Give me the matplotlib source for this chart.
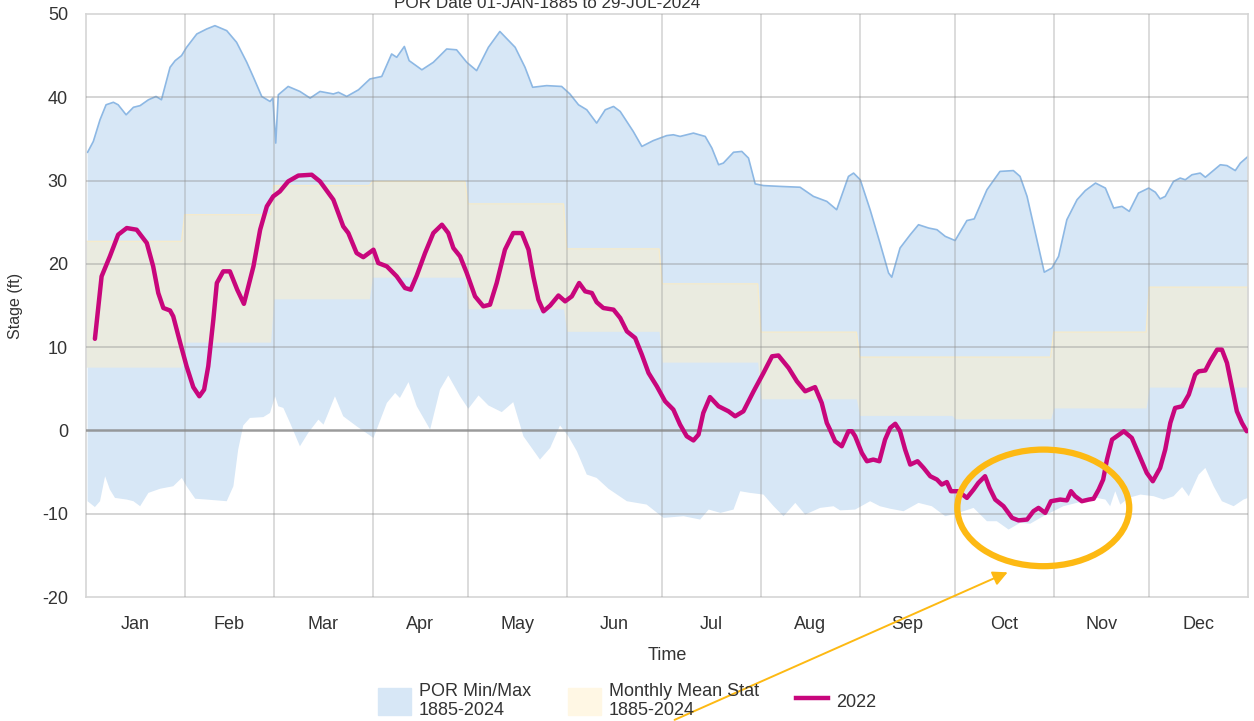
import numpy as np
import matplotlib
matplotlib.use("Agg")
import matplotlib.pyplot as plt
from matplotlib.patches import Ellipse, Patch
from matplotlib.lines import Line2D

plt.rcParams['font.family'] = ['Liberation Sans', 'DejaVu Sans']
plt.rcParams['axes.unicode_minus'] = False

# Data (day of year, 0 = 01-Jan)
months = ['Jan', 'Feb', 'Mar', 'Apr', 'May', 'Jun', 'Jul', 'Aug', 'Sep', 'Oct', 'Nov', 'Dec']
month_days = [31, 28, 31, 30, 31, 30, 31, 31, 30, 31, 30, 31]

# monthly mean stat band (low / high), ft
mean_low = [7.6, 10.6, 15.8, 18.4, 14.6, 11.9, 8.2, 3.8, 1.8, 1.4, 2.7, 5.2]
mean_high = [22.7, 25.9, 29.4, 29.9, 27.2, 21.8, 17.6, 11.8, 8.8, 8.8, 11.8, 17.2]

# POR max
max_day = [0.5, 2.3, 4.4, 6.3, 8.6, 10.1, 12.6, 14.9, 17, 19.6, 22, 23.7, 26.4, 28, 30, 31.6,
           34.8, 37.9, 40.5, 44.2, 47.3, 50.5, 52.6, 55.2, 57.8, 58.7, 59.6, 60.4, 63.5, 67.2,
           70.4, 73.5, 77.7, 79.3, 81.9, 85.6, 89.2, 92.9, 96, 97.6, 100, 101.5, 105.5, 109.1,
           113.3, 116.4, 119.6, 122.7, 126.4, 130, 134.8, 137.9, 140.3, 144.7, 149.4, 152,
           154.7, 157.3, 160.4, 163.1, 165.7, 167.8, 171.9, 174.6, 178.2, 182.4, 184.5, 186.6,
           190.8, 194.5, 196.6, 198.7, 200.2, 203.4, 206, 208.1, 210.2, 212.8, 218, 224.3,
           228.5, 232.7, 235.8, 239.5, 241.1, 243.2, 246.3, 249.4, 252.1, 253.1, 255.7, 258.9,
           261.5, 264.7, 267.3, 269.9, 273, 276.7, 279, 283, 287.1, 291.3, 293.4, 295.6, 298.2,
           301, 303.4, 305.5, 308.1, 311.3, 313.9, 317.1, 320.2, 322.8, 325.4, 327.7, 330.6,
           333.8, 335.9, 337.4, 339, 341.6, 343.7, 345.3, 347.4, 350, 351.6, 356.3, 358.4, 361,
           362.6, 365]
max_val = [33.4, 34.7, 37.3, 39.1, 39.4, 39.1, 37.9, 38.8, 39.0, 39.7, 40.1, 39.7, 43.6, 44.4,
           45.0, 46.0, 47.6, 48.2, 48.6, 48.0, 46.6, 44.2, 42.4, 40.1, 39.5, 39.9, 34.5, 40.3,
           41.3, 40.7, 39.9, 40.7, 40.4, 40.6, 40.1, 40.9, 42.2, 42.5, 45.2, 44.8, 46.1, 44.4,
           43.3, 44.2, 45.8, 45.7, 44.2, 43.2, 46.0, 47.9, 46.0, 43.6, 41.2, 41.4, 41.3, 40.4,
           39.1, 38.5, 36.9, 38.5, 38.9, 38.3, 35.9, 34.1, 34.8, 35.4, 35.5, 35.3, 35.7, 35.3,
           33.9, 31.9, 32.1, 33.4, 33.5, 32.7, 29.6, 29.4, 29.3, 29.2, 28.1, 27.5, 26.5, 30.5,
           30.9, 30.1, 26.5, 22.5, 18.9, 18.4, 21.9, 23.5, 24.7, 24.3, 24.1, 23.3, 22.8, 25.2,
           25.4, 28.9, 31.1, 31.2, 30.5, 28.1, 23.7, 19.0, 19.5, 20.9, 25.3, 27.7, 28.8, 29.7,
           29.1, 26.7, 26.9, 26.3, 28.5, 29.1, 28.6, 27.8, 28.1, 29.9, 30.3, 30.1, 30.7, 30.9,
           30.4, 31.9, 31.8, 31.2, 32.1, 32.9]

# POR min
min_day = [0.5, 2.8, 4.4, 6, 7.5, 9.1, 12.8, 14.9, 17, 19.6, 23.3, 27.4, 30.1, 31.6, 34.3, 37.9,
           44.2, 46.3, 47.8, 49.4, 51.5, 55.7, 57.8, 59.4, 60.4, 62, 64.1, 67.2, 69.8, 73, 74.6,
           76.1, 78.2, 80.8, 85, 90.3, 94.5, 97.1, 98.6, 101.3, 103.9, 108.1, 111.2, 113.8,
           117.5, 120.1, 123.3, 126.4, 130.6, 134.2, 137.4, 142.6, 145.8, 148.9, 151.5, 154.2,
           157.3, 160.4, 164.1, 169.9, 176.1, 181.4, 187.7, 192.9, 195.6, 199.3, 203.4, 205.5,
           208.6, 212.8, 216, 219.1, 222.8, 225.9, 230.6, 234.8, 236.9, 241.6, 246.3, 249.4,
           252.6, 256.8, 261.5, 265.7, 269.9, 274, 278.8, 283, 286.1, 289.8, 293.4, 296.6,
           300.7, 307, 313.3, 317.5, 320.2, 321.7, 323.3, 324.9, 327.5, 331.2, 335.4, 338.5,
           341.6, 344.3, 346.4, 349.5, 351.6, 354.2, 356.8, 360.5, 363.6, 365]
min_val = [-8.5, -9.2, -8.5, -5.5, -7.1, -8.1, -8.3, -8.5, -9.1, -7.5, -7.0, -6.7, -5.7, -6.7,
           -8.2, -8.3, -8.5, -6.7, -2.3, 0.6, 1.5, 1.6, 2.1, 4.1, 2.9, 2.7, 0.9, -1.9, -0.3, 1.3,
           0.7, 2.1, 4.1, 1.7, 0.5, -0.9, 3.3, 4.5, 3.9, 5.8, 2.9, 0.1, 4.9, 6.6, 4.1, 2.6, 4.2,
           3.0, 2.2, 3.4, -0.7, -3.5, -2.1, 0.6, -0.7, -2.5, -5.3, -5.7, -7.0, -8.5, -8.9, -10.5,
           -10.3, -10.7, -9.5, -9.9, -9.5, -7.3, -7.5, -7.7, -9.1, -10.3, -8.7, -10.1, -9.3,
           -9.1, -9.6, -9.5, -8.5, -9.1, -9.4, -9.7, -8.7, -9.1, -10.3, -9.9, -9.3, -10.9, -10.9,
           -11.9, -11.1, -11.2, -10.3, -9.1, -8.5, -8.1, -8.3, -9.1, -7.3, -8.9, -8.1, -7.7,
           -7.9, -8.3, -7.9, -6.8, -7.9, -5.3, -4.5, -6.7, -8.5, -9.1, -8.3, -8.1]

# 2022 stage
y22_day = [2.8, 4.9, 7.5, 10.1, 12.8, 15.9, 19.1, 21.1, 22.7, 24.3, 26.4, 27.4, 29.6, 31.6, 33.7,
           35.6, 37.1, 38.4, 40, 41.1, 43.1, 45.2, 47.5, 49.6, 52.6, 54.7, 56.8, 58.8, 60.9,
           63.5, 66.7, 70.9, 73.5, 77.7, 80.8, 82.4, 85, 87.1, 90.3, 91.8, 94.5, 97.6, 100.2,
           102, 103.9, 106.5, 109.1, 111.8, 113.8, 115.4, 117.5, 119.6, 122.2, 124.8, 126.9,
           129, 131.6, 134.2, 136.9, 139, 140.5, 142.1, 143.7, 145.8, 148.4, 150.5, 152.6,
           154.9, 156.8, 158.9, 160.4, 162.5, 165.7, 167.8, 169.9, 172.5, 174.6, 176.7, 179.3,
           181.9, 184.5, 186.6, 188.7, 190.8, 192.4, 193.9, 196, 198.7, 201.8, 203.9, 206.5,
           209.7, 212.8, 215.5, 217.5, 220.7, 223.3, 225.9, 229, 231.1, 232.7, 233.7, 235.3,
           237.4, 239.5, 240.6, 241.6, 243.7, 245.3, 247.3, 249.2, 251, 252.6, 254.2, 255.7,
           257.3, 258.9, 261.2, 263.1, 265.2, 267.3, 268.8, 270.4, 271.7, 274, 276.7, 278.8,
           280.3, 282.4, 283.8, 285.6, 288.2, 290.9, 292.9, 295.6, 297.6, 299.2, 301.3, 303.1,
           306, 308.1, 309.4, 310.7, 312.8, 315, 316.5, 318.1, 319.5, 320.7, 322.3, 326, 328.5,
           331.2, 333.2, 335.1, 337.4, 339, 340.6, 342.1, 344.3, 346.4, 348.4, 349.5, 351.6,
           353.1, 355.3, 356.8, 358.4, 360, 361.5, 363.1, 364.6]
y22_val = [11.0, 18.5, 20.9, 23.5, 24.3, 24.1, 22.5, 19.7, 16.5, 14.7, 14.4, 13.7, 10.5, 7.7, 5.2,
           4.1, 4.9, 7.7, 13.3, 17.7, 19.1, 19.1, 16.9, 15.2, 19.7, 24.1, 26.9, 28.1, 28.7, 29.9,
           30.6, 30.7, 29.9, 27.7, 24.5, 23.7, 21.3, 20.8, 21.7, 20.1, 19.7, 18.5, 17.1, 16.9,
           18.6, 21.3, 23.7, 24.7, 23.7, 21.9, 20.9, 18.9, 16.1, 14.9, 15.1, 17.7, 21.7, 23.7,
           23.7, 21.7, 18.5, 15.7, 14.3, 15.0, 16.2, 15.5, 16.1, 17.7, 16.7, 16.5, 15.4, 14.7,
           14.5, 13.5, 11.9, 11.1, 9.1, 6.9, 5.3, 3.5, 2.5, 0.7, -0.7, -1.2, -0.5, 2.1, 4.0, 2.9,
           2.3, 1.7, 2.3, 4.7, 6.9, 8.9, 9.0, 7.5, 5.9, 4.7, 5.2, 3.3, 0.9, 0.1, -1.3, -1.9, -0.1,
           -0.1, -0.7, -2.7, -3.7, -3.5, -3.7, -1.1, 0.3, 0.8, -0.1, -2.3, -4.1, -3.7, -4.5, -5.5,
           -5.9, -6.5, -6.2, -7.3, -7.3, -8.1, -7.1, -6.3, -5.5, -6.9, -8.3, -9.1, -10.5, -10.8,
           -10.7, -9.7, -9.3, -9.9, -8.5, -8.3, -8.4, -7.3, -7.9, -8.5, -8.3, -8.2, -7.1, -5.9,
           -3.5, -1.1, -0.1, -0.9, -3.3, -5.1, -6.1, -4.5, -2.3, 0.9, 2.7, 2.9, 4.3, 6.7, 7.1,
           7.2, 8.3, 9.7, 9.7, 8.1, 5.1, 2.3, 0.9, -0.1]

title = 'POR Date 01-JAN-1885 to 29-JUL-2024'

blue_fill = '#D7E7F6'
blue_line = '#8DB8E4'
band_col = '#EAEBE0'
mag = '#C8067C'
orange = '#FDB913'
txt = '#333333'

fig = plt.figure(figsize=(12.54, 7.21), dpi=100)
ax = fig.add_axes([86 / 1254, 124 / 721, 1162 / 1254, 583 / 721])

# POR min/max envelope
ax.fill(np.r_[max_day, min_day[::-1]], np.r_[max_val, min_val[::-1]],
        color=blue_fill, lw=0, zorder=1)
ax.plot(max_day, max_val, color=blue_line, lw=1.2, zorder=2)

# monthly mean band as steps
starts = np.cumsum([0] + month_days[:-1])
bx, blo, bhi = [], [], []
for i in range(12):
    end = starts[i] + month_days[i] - 1 if i < 11 else 365
    bx += [starts[i], end]
    blo += [mean_low[i]] * 2
    bhi += [mean_high[i]] * 2
ax.fill_between(bx, blo, bhi, color=band_col, lw=0, zorder=2)
ax.plot(bx, bhi, color='#F6EBCB', lw=1, zorder=2)

# 2022 line
ax.plot(y22_day, y22_val, color=mag, lw=3.2, zorder=5, solid_capstyle='round')

# grid
for b in list(starts[1:]):
    ax.axvline(b, color='#9A9A9A', lw=1.1, alpha=0.45, zorder=3)
for v in range(-10, 50, 10):
    ax.axhline(v, color='#8A8A8A', lw=1.1 if v else 1.8, alpha=0.45 if v else 0.85, zorder=3)

ax.set_xlim(0, 365)
ax.set_ylim(-20, 50)
ax.set_yticks(range(-20, 51, 10))
ax.set_xticks(starts + np.array(month_days) / 2)
ax.set_xticklabels(months)
ax.tick_params(length=0, labelsize=13, colors=txt, pad=14)
ax.tick_params(axis='y', pad=13)
for s in ax.spines.values():
    s.set_color('#D5D5D5')
    s.set_linewidth(1.2)

ax.set_ylabel('Stage (ft)', fontsize=11.5, color=txt, labelpad=14)
ax.set_xlabel('Time', fontsize=13, color=txt, labelpad=10)

fig.text(547 / 1254, 1 - 8 / 721, title, ha='center', va='baseline', fontsize=12.3, color=txt)

# highlight annotation
ax.add_patch(Ellipse((300.7, -9.3), 54, 14, fill=False, ec=orange, lw=4.5, zorder=6,
                     clip_on=False))
ax.annotate('', xy=(290.3, -16.9), xycoords='data',
            xytext=(672, 0), textcoords='figure pixels',
            arrowprops=dict(arrowstyle='-|>', color=orange, lw=1.4, mutation_scale=22),
            annotation_clip=False, zorder=7)

handles = [Patch(facecolor=blue_fill, edgecolor=blue_fill),
           Patch(facecolor='#FFF7E4', edgecolor='#FFF7E4'),
           Line2D([0], [0], color=mag, lw=3.2)]
labels = ['POR Min/Max\n1885-2024', 'Monthly Mean Stat\n1885-2024', '2022']
leg = fig.legend(handles, labels, loc='lower left', bbox_to_anchor=(362 / 1254, -14 / 721),
                 ncol=3, frameon=False, fontsize=13, handlelength=1.8, handleheight=1.95,
                 handletextpad=0.45, columnspacing=2.05, labelspacing=0.2)
for t in leg.get_texts():
    t.set_color(txt)
    t.set_linespacing(1.15)

fig.savefig('out.png', dpi=100)
